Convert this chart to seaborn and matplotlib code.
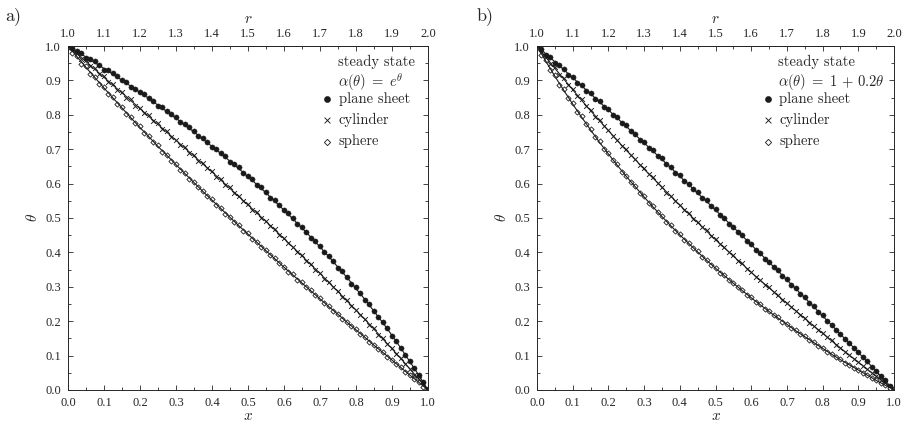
import numpy as np
import pandas as pd
import matplotlib
matplotlib.use('Agg')
import matplotlib.pyplot as plt
import seaborn as sns
from matplotlib.ticker import MultipleLocator

# sample positions of the smooth solutions and of the Monte Carlo points
x_line = np.linspace(0.0, 1.0, 41)
x_mc = np.linspace(0.0, 1.0, 81)
r_ticks = [1.0, 1.1, 1.2, 1.3, 1.4, 1.5, 1.6, 1.7, 1.8, 1.9, 2.0]

# a) alpha(theta) = exp(theta), smooth curves
a_plane = [1.000, .984, .968, .951, .935, .918, .900, .883, .865, .847, .828, .809, .790, .770,
           .750, .729, .708, .687, .665, .643, .620, .597, .573, .548, .523, .497, .471, .444,
           .416, .387, .357, .327, .295, .263, .229, .195, .159, .121, .082, .042, 0.0]
a_cyl = [1.000, .977, .955, .932, .909, .886, .864, .841, .818, .795, .772, .749, .726, .703,
         .680, .657, .634, .610, .586, .562, .538, .514, .490, .465, .440, .415, .390, .364,
         .339, .312, .286, .259, .232, .205, .177, .148, .120, .091, .061, .031, 0.0]
a_sph = [1.000, .969, .938, .908, .878, .849, .820, .791, .763, .736, .708, .682, .655, .629,
         .603, .577, .552, .527, .502, .477, .453, .429, .405, .381, .357, .334, .311, .288,
         .265, .242, .220, .197, .175, .153, .130, .109, .087, .065, .043, .022, 0.0]

# b) alpha(theta) = 1 + 0.2 theta, smooth curves
b_plane = [1.000, .977, .954, .931, .908, .884, .861, .837, .814, .790, .766, .742, .718, .694,
           .670, .646, .621, .597, .572, .548, .523, .498, .473, .448, .422, .397, .371, .346,
           .320, .294, .268, .242, .215, .189, .162, .136, .109, .082, .055, .027, 0.0]
b_cyl = [1.000, .967, .935, .904, .873, .842, .812, .783, .754, .725, .697, .670, .642, .616,
         .589, .563, .537, .512, .487, .462, .437, .413, .389, .366, .342, .319, .297, .274,
         .252, .230, .208, .186, .165, .143, .122, .101, .081, .060, .040, .020, 0.0]
b_sph = [1.000, .955, .912, .871, .831, .793, .756, .720, .686, .653, .621, .591, .561, .532,
         .504, .477, .451, .426, .401, .377, .354, .332, .310, .289, .268, .248, .228, .209,
         .191, .172, .155, .138, .121, .104, .088, .073, .058, .043, .028, .014, 0.0]

# Monte Carlo estimates (markers)
a_plane_mc = [.998, .995, .986, .979, .965, .962, .957, .946, .931, .929, .921, .913, .902, .894,
              .881, .876, .867, .860, .849, .840, .826, .823, .811, .801, .793, .778, .773, .765,
              .752, .738, .733, .720, .706, .700, .689, .680, .663, .656, .647, .630, .623, .612,
              .596, .589, .575, .559, .551, .538, .522, .514, .499, .483, .474, .460, .443, .433,
              .418, .400, .390, .375, .356, .345, .329, .309, .298, .281, .262, .249, .231, .211,
              .197, .179, .158, .142, .123, .101, .084, .063, .043, .022, .002]
a_cyl_mc = [.997, .985, .980, .962, .958, .941, .936, .918, .913, .894, .889, .873, .867, .850,
            .845, .827, .821, .805, .798, .782, .775, .759, .752, .736, .728, .713, .706, .689,
            .683, .667, .659, .644, .637, .620, .613, .597, .589, .572, .565, .549, .540, .524,
            .517, .500, .492, .476, .468, .451, .442, .426, .417, .401, .392, .375, .366, .350,
            .341, .324, .314, .298, .288, .271, .261, .244, .234, .217, .206, .190, .179, .161,
            .150, .133, .121, .104, .092, .075, .062, .045, .032, .015, .002]
a_sph_mc = [.996, .980, .972, .949, .941, .919, .911, .889, .881, .860, .852, .832, .823, .803,
            .794, .775, .766, .747, .739, .721, .711, .693, .684, .667, .657, .640, .631, .614,
            .605, .589, .579, .563, .554, .538, .529, .513, .504, .488, .479, .463, .455, .440,
            .431, .416, .407, .392, .383, .368, .359, .344, .336, .321, .313, .298, .290, .275,
            .267, .252, .244, .230, .221, .207, .199, .185, .176, .163, .154, .140, .131, .118,
            .110, .097, .088, .075, .066, .053, .044, .032, .023, .010, .002]
b_plane_mc = [.998, .991, .974, .968, .951, .945, .934, .917, .911, .893, .887, .870, .864, .847,
              .840, .823, .817, .800, .793, .776, .769, .752, .745, .728, .721, .704, .697, .680,
              .673, .656, .649, .632, .624, .607, .600, .583, .575, .558, .551, .534, .526, .509,
              .500, .484, .475, .459, .450, .433, .424, .408, .399, .382, .373, .357, .348, .331,
              .322, .306, .296, .279, .270, .254, .244, .227, .217, .201, .190, .174, .164, .148,
              .137, .121, .110, .095, .083, .068, .056, .040, .028, .013, .002]
b_cyl_mc = [.996, .979, .970, .947, .938, .916, .907, .886, .876, .855, .845, .825, .815, .795,
            .786, .766, .757, .737, .728, .709, .700, .682, .672, .654, .645, .627, .618, .601,
            .591, .574, .565, .548, .539, .523, .514, .498, .489, .473, .464, .448, .439, .423,
            .415, .400, .391, .376, .368, .352, .344, .329, .321, .306, .298, .284, .276, .262,
            .253, .240, .231, .218, .209, .196, .187, .174, .166, .153, .144, .131, .123, .111,
            .102, .090, .082, .070, .061, .049, .041, .029, .021, .010, .002]
b_sph_mc = [.995, .973, .958, .930, .915, .888, .874, .848, .834, .809, .796, .772, .759, .736,
            .723, .701, .689, .668, .656, .635, .623, .604, .593, .574, .563, .545, .534, .516,
            .506, .489, .479, .462, .453, .437, .428, .412, .403, .388, .379, .364, .356, .341,
            .334, .320, .312, .298, .291, .277, .270, .257, .250, .236, .230, .217, .211, .199,
            .192, .180, .174, .162, .156, .145, .139, .128, .122, .111, .105, .095, .089, .079,
            .074, .065, .059, .050, .044, .035, .029, .020, .015, .007, .002]

geometries = ['plane sheet', 'cylinder', 'sphere']
panels = {
    'a': dict(lines=[a_plane, a_cyl, a_sph], mc=[a_plane_mc, a_cyl_mc, a_sph_mc],
              formula=r'$\alpha(\theta)\;=\;e^{\theta}$'),
    'b': dict(lines=[b_plane, b_cyl, b_sph], mc=[b_plane_mc, b_cyl_mc, b_sph_mc],
              formula=r'$\alpha(\theta)\;=\;1\,+\,0.2\theta$'),
}

sns.set_theme(style='ticks')
plt.rcParams['font.family'] = ['Liberation Serif', 'DejaVu Serif']
plt.rcParams['mathtext.fontset'] = 'cm'
plt.rcParams['axes.linewidth'] = 0.7

marker_kw = {
    'plane sheet': dict(marker='o', s=14, color='k', edgecolor='k', linewidth=0.3),
    'cylinder': dict(marker='x', s=12, color='k', linewidth=0.65),
    'sphere': dict(marker='D', s=7, color='k', facecolor='white', edgecolor='k', linewidth=0.6),
}

fig = plt.figure(figsize=(9.05, 4.24), dpi=100)
axes = [fig.add_axes([0.0751, 0.0802, 0.3978, 0.8113]),
        fig.add_axes([0.5934, 0.0802, 0.3945, 0.8113])]
leg_x = {'a': 0.704, 'b': 0.630}
text_x = {'a': 0.750, 'b': 0.676}

for ax, (key, p) in zip(axes, panels.items()):
    for geo, yl, ym in zip(geometries, p['lines'], p['mc']):
        sns.scatterplot(x=x_mc, y=ym, ax=ax, label=geo, zorder=2, **marker_kw[geo])
        sns.lineplot(x=x_line, y=yl, ax=ax, color='k', linewidth=0.8, zorder=3)

    ax.set_xlim(0, 1)
    ax.set_ylim(0, 1)
    ax.xaxis.set_major_locator(MultipleLocator(0.1))
    ax.xaxis.set_minor_locator(MultipleLocator(0.05))
    ax.yaxis.set_major_locator(MultipleLocator(0.1))
    ax.yaxis.set_minor_locator(MultipleLocator(0.05))
    ax.xaxis.set_major_formatter('{x:.1f}')
    ax.yaxis.set_major_formatter('{x:.1f}')
    ax.tick_params(which='both', direction='in', right=True, labelsize=9, width=0.6)
    ax.tick_params(which='major', length=3.5, pad=5)
    ax.tick_params(which='minor', length=2)
    ax.set_xlabel(r'$x$', fontsize=11, labelpad=1)
    ax.set_ylabel(r'$\theta$', fontsize=11, labelpad=4)

    top = ax.secondary_xaxis('top', functions=(lambda v: v + 1, lambda r: r - 1))
    top.set_xticks(r_ticks, labels=[f'{r:.1f}' for r in r_ticks])
    top.set_xticks([r + 0.05 for r in r_ticks[:-1]], minor=True)
    top.tick_params(which='both', direction='in', labelsize=9, width=0.6)
    top.tick_params(which='major', length=3.5, pad=4)
    top.tick_params(which='minor', length=2)
    top.set_xlabel(r'$r$', fontsize=11, labelpad=4)

    ax.text(text_x[key], 0.953, 'steady state', transform=ax.transAxes, ha='left',
            va='center', family='cmr10', fontsize=10.5)
    ax.text(text_x[key], 0.896, p['formula'], transform=ax.transAxes, ha='left',
            va='center', fontsize=10.5)
    ax.legend(loc='upper left', bbox_to_anchor=(leg_x[key], 0.866), frameon=False,
              borderpad=0, borderaxespad=0, handlelength=0.8, handletextpad=0.4,
              labelspacing=0.5, scatterpoints=1, markerscale=1.2,
              prop={'family': 'cmr10', 'size': 10.5})

fig.text(0.006, 0.962, 'a)', family='cmr10', fontsize=13, va='center')
fig.text(0.527, 0.962, 'b)', family='cmr10', fontsize=13, va='center')

fig.savefig('out.png', dpi=100)
